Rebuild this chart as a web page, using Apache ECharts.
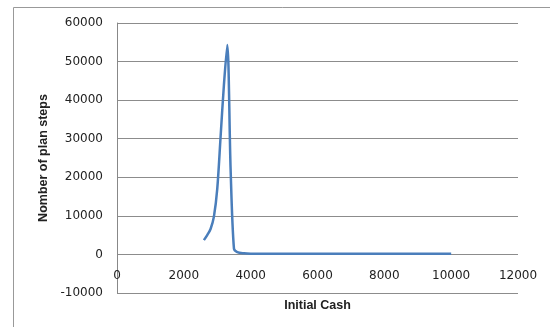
<!DOCTYPE html>
<html>
<head>
<meta charset="utf-8">
<script src="https://cdn.jsdelivr.net/npm/echarts@6/dist/echarts.min.js"></script>
<style>
html,body{margin:0;padding:0;background:#fff;}
#main{width:550px;height:327px;}
</style>
</head>
<body>
<div id="main"></div>
<script>
var cash = [2600, 2700, 2800, 2900, 3000, 3100, 3200, 3300, 3400, 3500, 3600, 3800, 4000, 5000, 6000, 7000, 8000, 9000, 10000]
var steps = [3700, 5000, 6600, 9800, 17000, 30500, 44000, 54300, 22000, 1500, 600, 300, 200, 150, 150, 150, 150, 150, 150]
var xTicks = {min: 0, max: 12000, interval: 2000}
var yTicks = {min: -10000, max: 60000, interval: 10000}

var chart = echarts.init(document.getElementById('main'))
var pts = []
for (var i = 0; i < cash.length; i++) {
    pts.push([cash[i], steps[i]])
}
var labelFont = {fontFamily: 'DejaVu Sans', fontSize: 12, color: '#222'}
var plain = function (v) { return String(v) }
chart.setOption({
    animation: false,
    graphic: [{
        type: 'rect',
        shape: {x: 13.5, y: 7.5, width: 600, height: 400},
        style: {fill: null, stroke: '#999', lineWidth: 1}
    }],
    grid: {left: 117, top: 23, right: 32, bottom: 34, containLabel: false, outerBoundsMode: 'none'},
    xAxis: {
        type: 'value',
        min: xTicks.min,
        max: xTicks.max,
        interval: xTicks.interval,
        name: 'Initial Cash',
        nameLocation: 'middle',
        nameGap: 6,
        nameTextStyle: {fontFamily: 'Liberation Sans', fontWeight: 'bold', fontSize: 12.5, color: '#222', verticalAlign: 'top'},
        axisLine: {show: false, onZero: false},
        axisTick: {show: false},
        splitLine: {show: false},
        axisLabel: Object.assign({margin: -23, formatter: plain, verticalAlign: 'top'}, labelFont)
    },
    yAxis: {
        type: 'value',
        min: yTicks.min,
        max: yTicks.max,
        interval: yTicks.interval,
        name: 'Nomber of plan steps',
        nameLocation: 'middle',
        nameRotate: 90,
        nameGap: 64,
        nameTextStyle: {fontFamily: 'Liberation Sans', fontWeight: 'bold', fontSize: 12.5, color: '#222'},
        axisLine: {show: true, onZero: false, lineStyle: {color: '#888'}},
        axisTick: {show: false},
        splitLine: {lineStyle: {color: '#8c8c8c'}},
        axisLabel: Object.assign({margin: 14, formatter: plain}, labelFont)
    },
    series: [{
        type: 'line',
        data: pts,
        smooth: 0.3,
        showSymbol: false,
        lineStyle: {color: '#4a7ebb', width: 2.5}
    }]
})
</script>
</body>
</html>
